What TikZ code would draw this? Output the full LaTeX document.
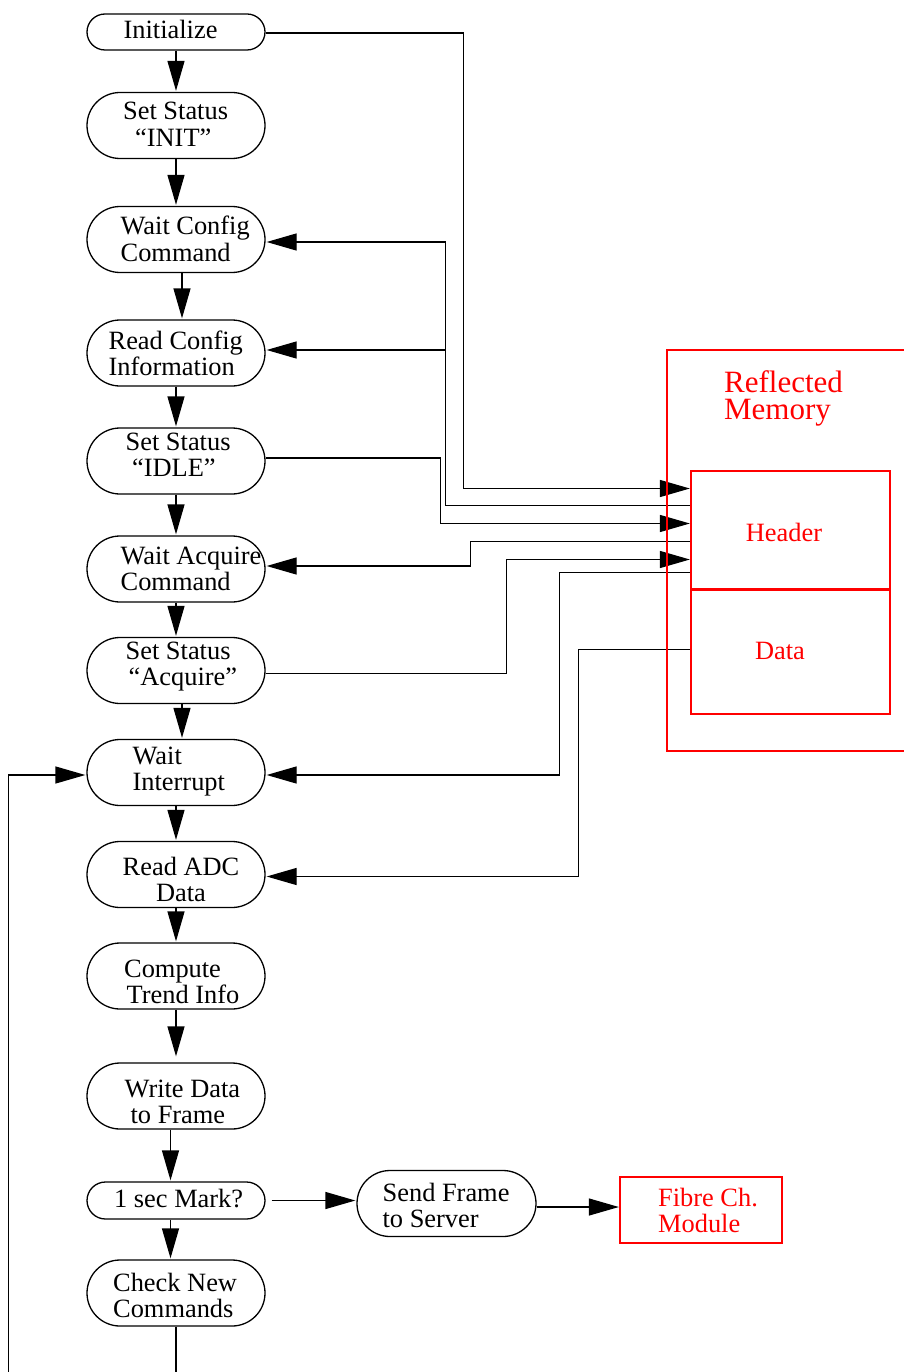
\documentclass[tikz,border=0pt]{standalone}
\usepackage{fontspec}
\setmainfont{Liberation Serif}
\usetikzlibrary{shapes.misc,arrows.meta}

\begin{document}
\begin{tikzpicture}[x=1pt,y=-1pt,
  line width=1.3pt,
  stadium/.style={draw, rounded rectangle, minimum width=178pt, inner sep=0pt},
  tall/.style={stadium, minimum height=66pt},
  flat/.style={stadium, minimum height=36pt},
  lbl/.style={font=\fontsize{26.4}{26.6}\selectfont, inner sep=0pt, align=left, anchor=base west},
  clbl/.style={lbl, align=center, anchor=base},
  redbox/.style={rectangle, inner sep=0pt},
  redline/.style={draw=red, line width=1.4pt},
  arr/.style={-{Triangle[length=30pt,width=17pt]}, shorten >=1pt},
]
\useasboundingbox (0,0) rectangle (903,1372);

% ---- main flow (left column)
\node[flat] (init)   at (176,32)     {};
\node[tall] (ssinit) at (176,125.5)  {};
\node[tall] (wcc)    at (176,239.5)  {};
\node[tall] (rci)    at (176,353)    {};
\node[tall] (ssidle) at (176,461)    {};
\node[tall] (wac)    at (176,569)    {};
\node[tall] (ssacq)  at (176,670.5)  {};
\node[tall] (wi)     at (176,772.5)  {};
\node[tall] (radc)   at (176,874.5)  {};
\node[tall] (cti)    at (176,976)    {};
\node[tall] (wdf)    at (176,1096)   {};
\node[flat, minimum height=37pt] (sec) at (176,1200.5) {};
\node[tall] (cnc)    at (176,1293)   {};
\node[tall, minimum width=179pt] (sfs) at (446.5,1203.5) {};
\node[redbox, minimum width=161pt, minimum height=65pt] (fcm) at (701,1210) {};

% ---- reflected memory block (outlines drawn last)
\node[redbox, minimum width=272.5pt, minimum height=400pt] (rm) at (803.75,550.5) {};
\node[redbox, minimum width=198pt, minimum height=118pt] (hdr) at (790.5,530.5) {};
\node[redbox, minimum width=198pt, minimum height=124pt] (dat) at (790.5,651.5) {};

% ---- labels (base = baseline of the last line)
\node[lbl] (init-t)   at (123,39)      {Initialize};
\node[lbl] (ssinit-t) at (122.5,146.6) {Set Status\\\hspace*{12pt}“INIT”};
\node[lbl] (wcc-t)    at (120,261.6)   {Wait Config\\Command};
\node[lbl] (rci-t)    at (108,375.6)   {Read Config\\Information};
\node[lbl] (ssidle-t) at (125,476.6)   {Set Status\\\hspace*{6.5pt}“IDLE”};
\node[lbl] (wac-t)    at (120,590.6)   {Wait Acquire\\Command};
\node[lbl] (ssacq-t)  at (125,685.6)   {Set Status\\\hspace*{3pt}“Acquire”};
\node[lbl] (wi-t)     at (132,790.6)   {Wait\\Interrupt};
\node[clbl] (radc-t)  at (181,901.6)   {Read ADC\\Data};
\node[lbl] (cti-t)    at (123.5,1003.6){Compute\\\hspace*{2.5pt}Trend Info};
\node[lbl] (wdf-t)    at (124,1123.6)  {Write Data\\\hspace*{6pt}to Frame};
\node[lbl] (sec-t)    at (113.5,1207)  {1 sec Mark?};
\node[lbl] (cnc-t)    at (112.5,1317.6){Check New\\Commands};
\node[lbl] (sfs-t)    at (382,1227.6)  {Send Frame\\to Server};
\node[lbl, text=red] (fcm-t) at (657.5,1232.6) {Fibre Ch.\\Module};
\node[lbl, text=red, font=\fontsize{31}{26.3}\selectfont] (rm-t) at (723.5,419) {Reflected\\Memory};
\node[clbl, text=red] (hdr-t) at (784,541) {Header};
\node[clbl, text=red] (dat-t) at (780,659) {Data};

% ---- flow arrows
\draw[arr] (init.south) -- (ssinit.north);
\draw[arr] (ssinit.south) -- (wcc.north);
\draw[arr] ([xshift=6pt]wcc.south) -- ([xshift=6pt]rci.north);
\draw[arr] (rci.south) -- (ssidle.north);
\draw[arr] (ssidle.south) -- (wac.north);
\draw[arr] (wac.south) -- (ssacq.north);
\draw[arr] ([xshift=6pt]ssacq.south) -- ([xshift=6pt]wi.north);
\draw[arr] (wi.south) -- (radc.north);
\draw[arr] (radc.south) -- (cti.north);
\draw[arr, shorten >=6pt] (cti.south) -- (wdf.north);
\draw[arr] ([xshift=-5.5pt]wdf.south) -- ([xshift=-5.5pt]sec.north);
\draw[arr] ([xshift=-5.5pt]sec.south) -- ([xshift=-5.5pt]cnc.north);
\draw[arr, shorten <=6pt] (sec.east) -- (sfs.west |- sec.east);
\draw[arr] (sfs.east |- 0,1207) -- (fcm.west |- 0,1207);
% loop back from the end of the cycle
\draw[arr] (cnc.south) -- (cnc.south |- 0,1410) -| (8.5,775) -- (wi.west |- 0,775);

% ---- reflected memory traffic
\draw[arr] (init.east |- 0,33) -| (463.5,488.5) -- (hdr.west |- 0,488.5);
\draw[arr] (hdr.west |- 0,505.5) -| (445.5,242) -- (wcc.east |- 0,242);
\draw[arr] (hdr.west |- 0,505.5) -| (445.5,350) -- (rci.east |- 0,350);
\draw[arr] (ssidle.east |- 0,458) -| (440.5,523.5) -- (hdr.west |- 0,523.5);
\draw[arr] (hdr.west |- 0,541.5) -| (470.5,566) -- (wac.east |- 0,566);
\draw[arr] (ssacq.east |- 0,673.5) -| (506.5,559.5) -- (hdr.west |- 0,559.5);
\draw[arr] (hdr.west |- 0,572.5) -| (559.5,775) -- (wi.east |- 0,775);
\draw[arr] (dat.west |- 0,649.5) -| (578.5,876.5) -- (radc.east |- 0,876.5);

% ---- red outlines
\draw[redline] (rm.north west) rectangle (rm.south east);
\draw[redline] (hdr.north west) rectangle (hdr.south east);
\draw[redline] (dat.north west) rectangle (dat.south east);
\draw[redline] (fcm.north west) rectangle (fcm.south east);
\end{tikzpicture}
\end{document}
